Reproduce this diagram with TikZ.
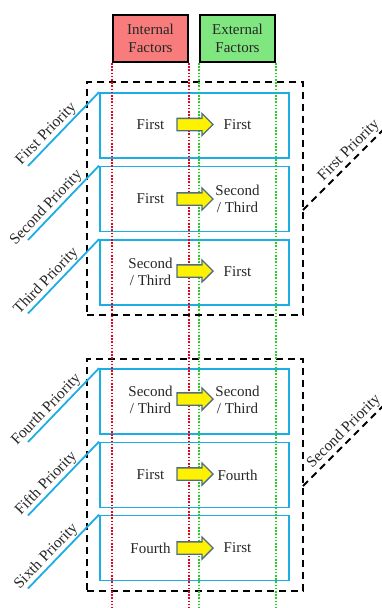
\documentclass[tikz,border=0pt]{standalone}
\usepackage{fontspec}
\setmainfont{Liberation Serif}
\usetikzlibrary{shapes.arrows}
\definecolor{cblue}{HTML}{1CADE4}
\definecolor{redfill}{HTML}{F87C7C}
\definecolor{greenfill}{HTML}{80E680}
\definecolor{arrowedge}{HTML}{4F6E84}
\definecolor{txt}{HTML}{262626}
\definecolor{dotred}{HTML}{E8001C}
\definecolor{dotgreen}{HTML}{22D022}
\tikzset{
  hdr/.style={draw=black, line width=1.8pt, minimum width=75, minimum height=47, inner sep=0pt, align=center, text=txt, font=\fontsize{15}{17.5}\selectfont},
  grp/.style={draw=black, line width=1.8pt, dash pattern=on 7pt off 5pt, minimum width=216, inner sep=0pt},
  grpline/.style={draw=black, line width=1.8pt, dash pattern=on 7pt off 5pt},
  pbox/.style={draw=cblue, line width=1.8pt, minimum width=189, minimum height=65, inner sep=0pt},
  blueln/.style={draw=cblue, line width=1.8pt},
  prio/.style={font=\fontsize{15.5}{17}\selectfont, text=txt, inner sep=1pt},
  ftext/.style={font=\fontsize{15}{17.5}\selectfont, text=txt, align=center, inner sep=0pt},
  reddot/.style={draw=dotred, line width=1.6pt, dash pattern=on 1.6pt off 1.6pt},
  greendot/.style={draw=dotgreen, line width=1.6pt, dash pattern=on 1.6pt off 1.6pt},
  barrow/.style={single arrow, draw=arrowedge, fill=yellow, line width=1.3pt, minimum height=36, single arrow head extend=5pt, inner xsep=0pt, inner ysep=5.5pt, shape border rotate=0}
}
\begin{document}
\begin{tikzpicture}[x=1pt,y=-1pt]
\useasboundingbox (0,0) rectangle (382,608);
\coordinate (bot) at (0,608);
% group boxes
\node[grp, minimum height=233] (g1) at (195,198.5) {};
\node[grp, minimum height=232] (g2) at (195,475) {};
% blue boxes
\node[pbox] (b1) at (194.5,125.5) {};
\node[pbox] (b2) at (194.5,199) {};
\node[pbox] (b3) at (194.5,272.5) {};
\node[pbox] (b4) at (194.5,401.5) {};
\node[pbox] (b5) at (194.5,475) {};
\node[pbox] (b6) at (194.5,548) {};
% left priority lines
\coordinate (l1) at (28,166);
\coordinate (l2) at (28,240);
\coordinate (l3) at (28,313.5);
\coordinate (l4) at (28,442);
\coordinate (l5) at (28,515.5);
\coordinate (l6) at (28,588.5);
\draw[blueln] (l1) -- (b1.north west) node[prio, pos=0.35, sloped, above] {First Priority};
\draw[blueln] (l2) -- (b2.north west) node[prio, pos=0.35, sloped, above] {Second Priority};
\draw[blueln] (l3) -- (b3.north west) node[prio, pos=0.35, sloped, above] {Third Priority};
\draw[blueln] (l4) -- (b4.north west) node[prio, pos=0.35, sloped, above] {Fourth Priority};
\draw[blueln] (l5) -- (b5.north west) node[prio, pos=0.35, sloped, above] {Fifth Priority};
\draw[blueln] (l6) -- (b6.north west) node[prio, pos=0.35, sloped, above] {Sixth Priority};
% right group lines
\coordinate (r1s) at (303,210);
\coordinate (r1e) at (384,129);
\coordinate (r2s) at (303,486);
\coordinate (r2e) at (384,405);
\draw[grpline] (r1s) -- (r1e) node[prio, pos=0.65, sloped, above=0.5pt] {First Priority};
\draw[grpline] (r2s) -- (r2e) node[prio, pos=0.59, sloped, above=0.5pt] {Second Priority};
% headers
\node[hdr, fill=redfill] (hi) at (150.5,38.5) {Internal\\Factors};
\node[hdr, fill=greenfill] (he) at (237.5,38.5) {External\\Factors};
% dotted guide lines
\draw[reddot] (hi.south west) -- (hi.south west |- bot);
\draw[reddot] (hi.south east) -- (hi.south east |- bot);
\draw[greendot] (he.south west) -- (he.south west |- bot);
\draw[greendot] (he.south east) -- (he.south east |- bot);
% texts
\node[ftext] (t1l) at (150.5,125) {First};
\node[ftext] (t1r) at (237.5,125) {First};
\node[ftext] (t2l) at (150.5,199) {First};
\node[ftext] (t2r) at (237.5,199) {Second\\/ Third};
\node[ftext] (t3l) at (150.5,272) {Second\\/ Third};
\node[ftext] (t3r) at (237.5,272) {First};
\node[ftext] (t4l) at (150.5,400) {Second\\/ Third};
\node[ftext] (t4r) at (237.5,400) {Second\\/ Third};
\node[ftext] (t5l) at (150.5,475) {First};
\node[ftext] (t5r) at (237.5,475) {Fourth};
\node[ftext] (t6l) at (150.5,548) {Fourth};
\node[ftext] (t6r) at (237.5,548) {First};
% arrows
\node[barrow] (a1) at (192,124.5) {};
\node[barrow] (a2) at (192,199) {};
\node[barrow] (a3) at (192,271) {};
\node[barrow] (a4) at (192,399) {};
\node[barrow] (a5) at (192,474) {};
\node[barrow] (a6) at (192,548) {};
\end{tikzpicture}
\end{document}
